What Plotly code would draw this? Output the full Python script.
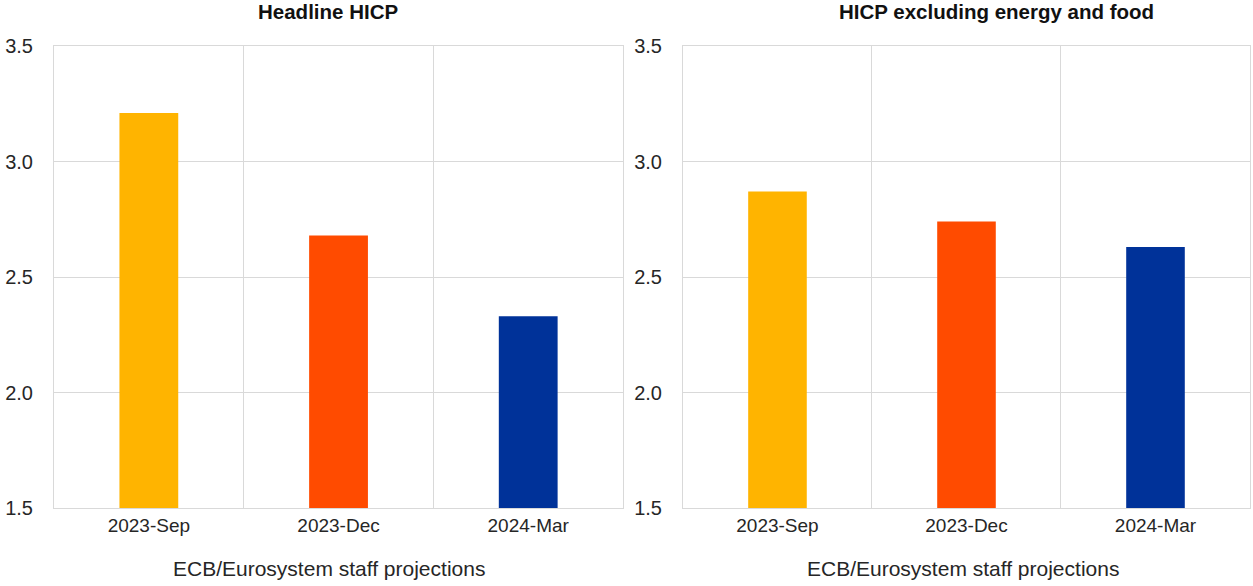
import plotly.graph_objects as go
from plotly.subplots import make_subplots

vintages = ['2023-Sep', '2023-Dec', '2024-Mar']
headline = [3.21, 2.68, 2.33]
core = [2.87, 2.74, 2.63]
bar_colors = ['#FFB400', '#FF4B00', '#003299']
panel_titles = ['Headline HICP', 'HICP excluding energy and food']
x_title = 'ECB/Eurosystem staff projections'

fig = make_subplots(rows=1, cols=2)

fig.add_trace(go.Bar(x=vintages, y=headline, marker=dict(color=bar_colors, line_width=0),
                     width=0.31, showlegend=False), row=1, col=1)
fig.add_trace(go.Bar(x=vintages, y=core, marker=dict(color=bar_colors, line_width=0),
                     width=0.31, showlegend=False), row=1, col=2)

font = 'Liberation Sans, Arial, sans-serif'
grid = '#d9d9d9'
txt_col = '#262626'

fig.update_xaxes(tickson='boundaries', showgrid=True, gridcolor=grid, gridwidth=1,
                 showline=True, linecolor=grid, mirror=True, ticks='', automargin=False,
                 tickfont=dict(size=19, color=txt_col, family=font))
fig.update_yaxes(range=[1.5, 3.5], dtick=0.5, tickformat='.1f', showgrid=True,
                 gridcolor=grid, gridwidth=1, showline=True, linecolor=grid, mirror=True,
                 zeroline=False, ticklabelstandoff=16, automargin=False,
                 tickfont=dict(size=20, color=txt_col, family=font))

# plot areas: left x 54-623, right x 683-1250, y 46-508 px
fig.update_layout(
    width=1253, height=586,
    margin=dict(l=54, r=3, t=46, b=78),
    plot_bgcolor='white', paper_bgcolor='white',
    xaxis=dict(domain=[0.0, 0.4758]),
    xaxis2=dict(domain=[0.5259, 1.0]),
    yaxis=dict(domain=[0.0, 1.0]),
    yaxis2=dict(domain=[0.0, 1.0]),
    font=dict(family=font),
)

# panel titles (not centred on the plots in the original)
for px, txt in zip([328, 996], panel_titles):
    fig.add_annotation(x=(px - 54) / 1196, y=1 + 34 / 462, xref='paper', yref='paper',
                       xanchor='center', yanchor='middle', text=f'<b>{txt}</b>',
                       showarrow=False, font=dict(size=20.5, color='#111', family=font))

# x axis titles
for px in [329, 963]:
    fig.add_annotation(x=(px - 54) / 1196, y=-(568 - 508) / 462, xref='paper', yref='paper',
                       xanchor='center', yanchor='middle', text=x_title,
                       showarrow=False, font=dict(size=21, color=txt_col, family=font))

# drop the default 8px page margin so the figure fills the window
fig.write_html("out.html", config={'displayModeBar': False},
               post_script="document.body.style.margin='0';")
